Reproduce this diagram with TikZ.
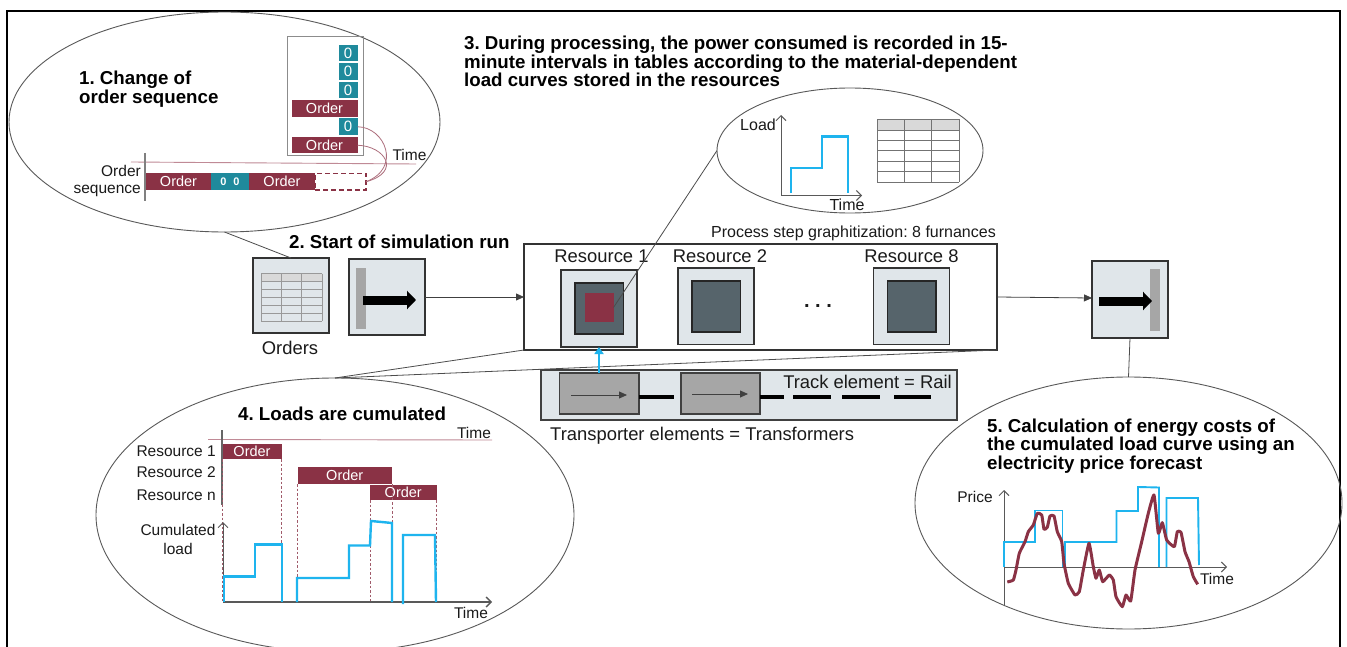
\documentclass[tikz,border=0pt]{standalone}
\usepackage{fontspec}
\setmainfont{Liberation Sans}
\usetikzlibrary{arrows.meta,shapes.geometric}
\definecolor{ink}{HTML}{1A1A1A}
\definecolor{bordeaux}{HTML}{8A3245}
\definecolor{tealz}{HTML}{1F8A9C}
\definecolor{paleb}{HTML}{E0E6EA}
\definecolor{slateb}{HTML}{56646B}
\definecolor{midg}{HTML}{A6A6A6}
\definecolor{skyb}{HTML}{1EB4EE}
\definecolor{thinr}{HTML}{C08A96}
\newcommand{\fs}[1]{\frenchspacing\fontsize{#1}{#1}\selectfont}
\newcommand{\bx}[7][]{%
  \pgfmathsetmacro{\bxw}{#5-#3}\pgfmathsetmacro{\bxh}{#6-#4}%
  \pgfmathsetmacro{\bxx}{(#5+#3)/2}\pgfmathsetmacro{\bxy}{(#6+#4)/2}%
  \node[rectangle,inner sep=0pt,outer sep=0pt,minimum width=\bxw pt,minimum height=\bxh pt,#1] (#2) at (\bxx,\bxy) {#7};}
\newcommand{\tbl}[5]{% x1 y1 x2 y2 line colour
  \pgfmathsetmacro{\tc}{(#3-#1)/3}\pgfmathsetmacro{\tr}{(#4-#2)/6}%
  \fill[black!15] (#1,#2) rectangle (#3,#2+\tr);
  \foreach \i in {0,...,6} {\draw[#5,line width=.8pt] (#1,#2+\i*\tr) -- (#3,#2+\i*\tr);}
  \foreach \i in {0,...,3} {\draw[#5,line width=.8pt] (#1+\i*\tc,#2) -- (#1+\i*\tc,#4);}}
\tikzset{
  x=1pt,y=-1pt,
  bubble/.style={draw=black!65,line width=.9pt,ellipse,inner sep=0pt,outer sep=0pt},
  head/.style={font=\fs{18.7}\bfseries,text=black,align=left,anchor=west,inner sep=0pt},
  lab/.style={font=\fs{15.5},text=ink,inner sep=0pt},
  labb/.style={font=\fs{18.4},text=ink,inner sep=0pt},
  order/.style={fill=bordeaux,text=white,font=\fs{14.5}},
  zero/.style={fill=tealz,text=white,font=\fs{15}},
  pale/.style={fill=paleb,draw=black!80,line width=1.2pt},
  core/.style={fill=slateb,draw=black!85,line width=1.2pt},
  wagon/.style={fill=midg,draw=black!75,line width=1.2pt},
  link/.style={draw=black!70,line width=.8pt},
  feed/.style={draw=black!75,line width=.8pt,-{Triangle[length=8pt,width=7pt]}},
  axis/.style={draw=black!65,line width=1pt,-{Straight Barb[length=5pt,width=10pt]}},
  loadc/.style={draw=skyb,line width=2.4pt},
  guide/.style={draw=bordeaux!80,line width=.7pt,dash pattern=on 2.5pt off 2pt},
  thick arrow/.style={draw=black,line width=9pt,-{Triangle[length=9pt,width=18pt]}},
}
\begin{document}
\begin{tikzpicture}
\useasboundingbox (0,0) rectangle (1347,647);
\fill[white] (0,0) rectangle (1347,647);
\draw[black,line width=1.6pt] (7,647) -- (7,11) -- (1340,11) -- (1340,647);

% bubbles
\node[bubble,minimum width=431pt,minimum height=220pt] (e1) at (224.5,122) {};
\node[bubble,minimum width=266pt,minimum height=125pt] (e3) at (850,150.5) {};
\node[bubble,minimum width=478pt,minimum height=274pt] (e4) at (335,515) {};
\node[bubble,minimum width=427pt,minimum height=252pt] (e5) at (1128.5,503) {};

% headings
\node[head] (h1) at (79,89) {\setlength{\baselineskip}{22pt}1. Change of\\order sequence};
\node[head] (h2) at (289,242) {2. Start of simulation run};
\node[head] (h3) at (464,61.5) {\setlength{\baselineskip}{23.5pt}3. During processing, the power consumed is recorded in 15-\\minute intervals in tables according to the material-dependent\\load curves stored in the resources};
\node[head] (h4) at (238,414) {4. Loads are cumulated};
\node[head] (h5) at (987,446) {\setlength{\baselineskip}{22pt}5. Calculation of energy costs of\\the cumulated load curve using an\\electricity price forecast};

% ---- step 1 content
\bx[draw=black!45,line width=1pt]{queue}{287}{36.5}{363}{156}{}
\bx[zero]{z1}{338.5}{45}{357.5}{61.5}{0}
\bx[zero]{z2}{338.5}{63.5}{357.5}{80}{0}
\bx[zero]{z3}{338.5}{82}{357.5}{98}{0}
\bx[order]{q1}{291.5}{100}{357.5}{117}{Order}
\bx[zero]{z4}{338.5}{118.5}{357.5}{135}{0}
\bx[order]{q2}{291.5}{137}{357.5}{153.5}{Order}
\draw[thinr,line width=.9pt] (131,162) -- (416,164);
\draw[black!50,line width=1.2pt] (145,153) -- (145,201);
\node[lab] (t1) at (409.5,155) {Time};
\node[lab,anchor=east] (os1) at (141,171) {Order};
\node[lab,anchor=east] (os2) at (141,191) {sequence};
\bx[order]{s1}{146}{173.5}{211}{190}{Order}
\bx[fill=tealz,text=white,font=\fs{11}\bfseries]{s2}{211}{173.5}{249}{190}{0\hspace{7pt}0}
\bx[order]{s3}{249}{173.5}{315}{190}{Order}
\bx[draw=bordeaux,line width=1.2pt,dash pattern=on 5pt off 3pt]{s4}{315}{173.5}{366}{190}{}
\draw[bordeaux!70,line width=.8pt] (z4.east) .. controls (385,127) and (402,168) .. (s4.east);
\draw[bordeaux!70,line width=.8pt] (q2.east) .. controls (385,146) and (402,172) .. (s4.east);

% ---- source, orders
\bx[pale]{orders}{253}{258}{329}{333}{}
\tbl{261}{273.5}{322}{321}{black!40}
\node[labb] (ol) at (290,347.5) {Orders};
\bx[pale]{src}{349}{259}{425}{335}{}
\bx[fill=midg]{srcbar}{355.5}{268}{365.5}{329}{}
\coordinate (sa) at (363,300);
\coordinate (sb) at (416,300);
\draw[thick arrow] (sa) -- (sb);
\draw[link] (e1.south) -- (orders.north);

% ---- main process box
\bx[fill=white,draw=black!80,line width=1.2pt]{main}{524}{244}{997}{350}{}
\node[lab,anchor=east,font=\fs{16}] (pl) at (996,233) {Process step graphitization: 8 furnances};
\node[labb] (r1l) at (601.5,256.5) {Resource 1};
\node[labb] (r2l) at (720,256.5) {Resource 2};
\node[labb] (r8l) at (911.5,256.5) {Resource 8};
\bx[pale]{r1}{561}{270}{637}{347}{}
\bx[core]{r1c}{575}{283}{623.5}{334}{}
\bx[fill=bordeaux]{red}{585}{293}{613.5}{322}{}
\bx[pale]{r2}{678}{268}{754}{344.5}{}
\bx[core]{r2c}{692}{281}{740.5}{332}{}
\bx[pale]{r8}{873.5}{268}{949.5}{344.5}{}
\bx[core]{r8c}{887.5}{281}{936}{332}{}
\node[labb,font=\fs{20}\bfseries] (dots) at (818,306) {.\hspace{5.5pt}.\hspace{5.5pt}.};
\draw[link] (e3.west) -- (red.east);

% ---- exit
\bx[pale]{exit}{1092}{261}{1168}{338}{}
\bx[fill=midg]{exitbar}{1150}{269}{1160}{331}{}
\coordinate (ea) at (1099,301);
\coordinate (eb) at (1152,301);
\draw[thick arrow] (ea) -- (eb);

\draw[feed] (src.east |- 0,297) -- (main.west);
\draw[feed] (main.east) -- (exit.west |- 0,298);
\draw[link] (exit.south) -- (e5.north);

% ---- transporters
\bx[fill=paleb,draw=black!75,line width=1.2pt]{track}{541}{370}{957}{420}{}
\draw[link] (e4.north) -- (main.south west);
\draw[link] (e4.north) -- (main.south east);
\bx[wagon]{w1}{559.5}{373}{639}{414}{}
\bx[wagon]{w2}{681}{373}{760}{414}{}
\coordinate (wa1) at (571,395);
\coordinate (wb1) at (627,395);
\coordinate (wa2) at (692,394);
\coordinate (wb2) at (748,394);
\draw[feed] (wa1) -- (wb1);
\draw[feed] (wa2) -- (wb2);
\coordinate (raila) at (674,396.5);
\coordinate (railb) at (760,396.5);
\coordinate (railc) at (931,396.5);
\draw[black,line width=4pt] (w1.east |- raila) -- (raila);
\draw[black,line width=4pt,dash pattern=on 24pt off 9pt on 38pt off 11pt on 38pt off 14pt on 37pt off 10pt] (railb) -- (railc);
\node[labb,anchor=east] (tl) at (952,382) {Track element = Rail};
\node[labb,anchor=west] (trl) at (550,436) {Transporter elements = Transformers};
\draw[skyb,line width=2pt,-{Triangle[length=7pt,width=9pt]}] (w1.north -| r1.south) -- (r1.south);

% ---- step 3 content
\coordinate (o3) at (781,195.5);
\draw[axis] (o3) -- (781,115);
\draw[axis] (o3) -- (862,195.5);
\node[labb,font=\fs{16}] (ll) at (758,124.5) {Load};
\node[labb,font=\fs{16}] (tl3) at (847,205) {Time};
\draw[loadc] (791,193) -- (791,168) -- (822,168) -- (822,136.5) -- (848,136.5) -- (848,193);
\tbl{877}{119.5}{959}{182}{black!55}

% ---- step 4 content
\draw[thinr,line width=.9pt] (208,439.5) -- (492,440);
\draw[black!60,line width=1.2pt] (222,430) -- (222,505);
\node[lab] (t4a) at (474,433) {Time};
\node[lab,anchor=east] (ra) at (216,451) {Resource 1};
\node[lab,anchor=east] (rb) at (216,472.5) {Resource 2};
\node[lab,anchor=east] (rc) at (216,495) {Resource n};
\bx[order]{o1}{222.5}{443.5}{281.5}{459}{Order}
\bx[order]{o2}{297.5}{466.5}{392}{484}{Order}
\bx[order]{o3n}{370}{484.5}{436.5}{500}{Order}
\coordinate (o4) at (223,602);
\draw[guide] (o1.south west) -- (o1.south west |- o4);
\draw[guide] (o1.south east) -- (o1.south east |- o4);
\draw[guide] (o2.south west) -- (o2.south west |- o4);
\draw[guide] (o3n.south west) -- (o3n.south west |- o4);
\draw[guide] (o2.south east) -- (o2.south east |- o4);
\draw[guide] (o3n.south east) -- (o3n.south east |- o4);
\draw[axis] (o4) -- (223,522);
\draw[axis,line width=1.3pt] (o4) -- (492,602);
\node[lab,align=center] (cl) at (178,530) {Cumulated};
\node[lab] (cl2) at (178,549) {load};
\node[lab] (t4b) at (471,613) {Time};
\draw[loadc] (224,602) -- (224,576.5) -- (255,576.5) -- (255,544.5) -- (282,544.5) -- (282,602);
\draw[loadc] (297,602) -- (297,578) -- (349,578) -- (349,545.5) -- (370,545.5) -- (371,521) -- (392,523) -- (392,602);
\draw[loadc] (403,604) -- (403,535) -- (435,535) -- (436,602);

% ---- step 5 content
\coordinate (o5) at (1004,567);
\draw[axis] (1004,606) -- (1004,490);
\draw[axis] (o5) -- (1227,567);
\node[lab] (pr) at (975,497) {Price};
\node[lab] (t5) at (1217,579) {Time};
\draw[loadc,line width=1.9pt] (1004,567) -- (1004,542) -- (1035,542) -- (1035,510.5) -- (1062.5,510.5) -- (1062.5,567);
\draw[loadc,line width=1.9pt] (1065,567) -- (1065,542) -- (1116.5,542) -- (1116.5,511) -- (1138,511) -- (1138,487) -- (1159,487.5) -- (1159,567);
\draw[loadc,line width=1.9pt] (1166.5,567) -- (1166.5,498) -- (1198,498) -- (1199,565);
\draw[bordeaux,line width=3pt,line join=round] plot[smooth,tension=.25] coordinates {
 (1007.3,582)(1013.3,580)(1016,570)(1019.3,553.3)(1025,541.7)(1028.3,531.7)(1033.3,525)(1037.3,513.3)(1041.7,515)(1044,529.3)(1047.3,527.3)(1050,516)(1054,516)(1057.3,531.7)(1061.7,541.7)(1064,563.3)(1068.3,583.3)(1075,595)(1079.3,591.7)(1083.3,570)(1089,543.3)(1093.3,566.7)(1096,578.3)(1099.3,570)(1102.7,581.7)(1109.3,575)(1113.3,580)(1116,596.7)(1122.3,606.7)(1126,595)(1130.7,601)(1135,570)(1141.7,541.7)(1148.3,513.3)(1154,495)(1158.3,533.3)(1162.3,522.7)(1166.7,540)(1174.3,546.7)(1177.3,531.7)(1181,532.3)(1185,551.7)(1189,561.7)(1193.3,576.7)(1197.7,584.3)};
\end{tikzpicture}
\end{document}
